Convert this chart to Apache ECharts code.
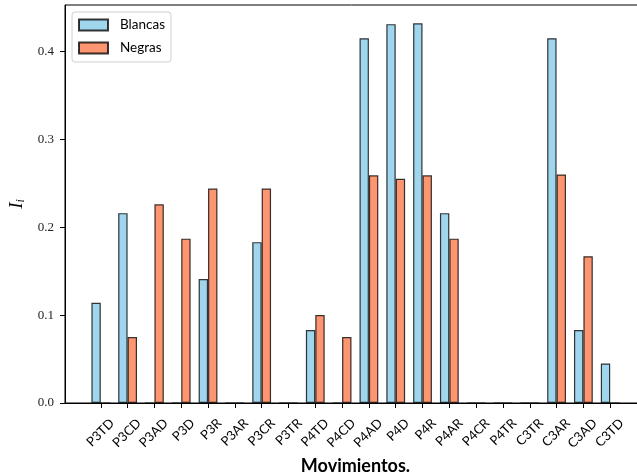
<!DOCTYPE html>
<html>
<head>
<meta charset="utf-8">
<script src="https://cdn.jsdelivr.net/npm/echarts@6/dist/echarts.min.js"></script>
<style>
  html, body { margin: 0; padding: 0; background: #fff; }
  #chart { width: 637px; height: 472px; }
</style>
</head>
<body>
<div id="chart"></div>
<script>
// Movement categories on the x axis
const categories = ['P3TD', 'P3CD', 'P3AD', 'P3D', 'P3R', 'P3AR', 'P3CR', 'P3TR', 'P4TD', 'P4CD',
                    'P4AD', 'P4D', 'P4R', 'P4AR', 'P4CR', 'P4TR', 'C3TR', 'C3AR', 'C3AD', 'C3TD'];
// I_i for white pieces
const blancas = [0.114, 0.216, 0, 0, 0.141, 0, 0.183, 0, 0.083, 0,
                 0.415, 0.431, 0.432, 0.216, 0, 0, 0, 0.415, 0.083, 0.045];
// I_i for black pieces
const negras = [0, 0.075, 0.226, 0.187, 0.244, 0, 0.244, 0, 0.100, 0.075,
                0.259, 0.255, 0.259, 0.187, 0, 0, 0, 0.260, 0.167, 0];
const yTicks = [0, 0.1, 0.2, 0.3, 0.4];
const seriesNames = ['Blancas', 'Negras'];

const positions = categories.map((_, i) => i);
// tick labels sit centred under their tick, so the rotated text ends slightly right of it
const labelShift = 0.42;

const chart = echarts.init(document.getElementById('chart'), null, { renderer: 'canvas' });

const edge = { borderColor: 'rgba(0,0,0,0.78)', borderWidth: 1.2 };

chart.setOption({
  animation: false,
  backgroundColor: '#fff',
  grid: {
    left: 65, top: 5, width: 581, height: 398,
    outerBoundsMode: 'none',
    containLabel: false,
    show: true, borderColor: '#000', borderWidth: 1, backgroundColor: 'transparent'
  },
  legend: {
    orient: 'vertical',
    left: 72, top: 12,
    data: seriesNames,
    icon: 'rect',
    itemWidth: 29, itemHeight: 11, itemGap: 9,
    padding: [6, 6, 7, 6],
    backgroundColor: '#fff',
    borderColor: '#d0d0d0', borderWidth: 1, borderRadius: 3,
    textStyle: { fontFamily: 'Lato', fontSize: 13.5, color: '#000', padding: [0, 0, 0, 7] }
  },
  xAxis: {
    type: 'value',
    min: -1.335, max: 20.335,
    name: 'Movimientos.',
    nameLocation: 'middle',
    nameGap: 47,
    nameTextStyle: { fontFamily: 'Lato', fontWeight: 'bold', fontSize: 18, color: '#000' },
    axisLine: { show: true, onZero: false, lineStyle: { color: '#000', width: 1 } },
    axisTick: { show: true, length: 5, customValues: positions, lineStyle: { color: '#000' } },
    axisLabel: {
      customValues: positions.map(p => p + labelShift),
      formatter: v => categories[Math.round(v - labelShift)] || '',
      rotate: 45,
      margin: 18,
      fontFamily: 'Lato', fontSize: 13, color: '#000'
    },
    splitLine: { show: false }
  },
  yAxis: {
    type: 'value',
    min: 0, max: 0.4528,
    name: '{i|I}{s|i}',
    nameLocation: 'middle',
    nameRotate: 90,
    nameGap: 30,
    nameTextStyle: {
      rich: {
        i: { fontFamily: 'Liberation Serif', fontStyle: 'italic', fontSize: 19, color: '#000' },
        s: { fontFamily: 'Liberation Serif', fontStyle: 'italic', fontSize: 12, color: '#000', padding: [8, 0, 0, 0] }
      }
    },
    axisLine: { show: true, onZero: false, lineStyle: { color: '#000', width: 1 } },
    axisTick: { show: true, length: 5, customValues: yTicks, lineStyle: { color: '#000' } },
    axisLabel: {
      customValues: yTicks,
      formatter: v => v.toFixed(1),
      margin: 11,
      fontFamily: 'Liberation Serif', fontSize: 13, color: '#222'
    },
    splitLine: { show: false }
  },
  series: [
    {
      name: seriesNames[0],
      type: 'bar',
      barWidth: 9.4,
      barGap: '0%',
      itemStyle: Object.assign({ color: '#9fd6ee' }, edge),
      data: positions.map(i => [i, blancas[i]])
    },
    {
      name: seriesNames[1],
      type: 'bar',
      barWidth: 9.4,
      barGap: '0%',
      itemStyle: Object.assign({ color: '#fd9571' }, edge),
      data: positions.map(i => [i, negras[i]])
    }
  ]
});
</script>
</body>
</html>
